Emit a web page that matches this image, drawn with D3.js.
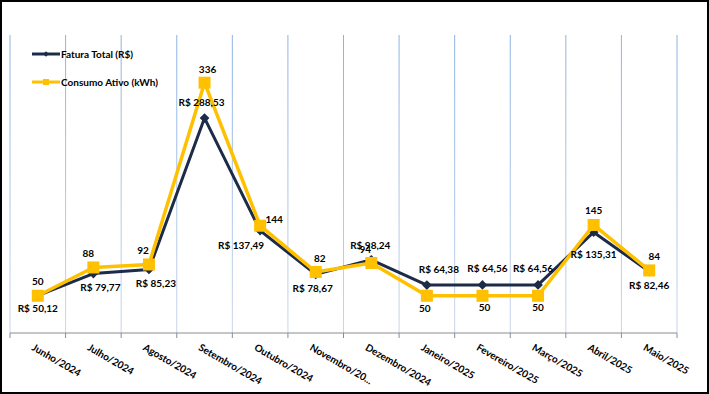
<!DOCTYPE html>
<html>
<head>
<meta charset="utf-8">
<script src="https://cdn.jsdelivr.net/npm/d3@7"></script>
<style>
  body { margin: 0; background: #fff; }
  svg text { font-family: Lato, "Liberation Sans", sans-serif; font-weight: bold; fill: #000; }
</style>
</head>
<body>
<div id="chart"></div>
<script>
// chart data
const months = ["Junho/2024", "Julho/2024", "Agosto/2024", "Setembro/2024", "Outubro/2024", "Novembro/20...",
    "Dezembro/2024", "Janeiro/2025", "Fevereiro/2025", "Março/2025", "Abril/2025", "Maio/2025"];
const fatura = [50.12, 79.77, 85.23, 288.53, 137.49, 78.67, 98.24, 64.38, 64.56, 64.56, 135.31, 82.46];
const consumo = [50, 88, 92, 336, 144, 82, 94, 50, 50, 50, 145, 84];
const seriesNames = ["Fatura Total (R$)", "Consumo Ativo (kWh)"];

// hand-placed label nudges (dx, dy from the point)
const faturaLabelOffset = [[0, 13], [7, 14], [7, 14], [-3, -16], [-19, 15], [-3, 14], [-1, -14],
    [12, -16], [5, -16], [-5, -16], [0, 22], [0, 14]];
const consumoLabelOffset = [[0, -14], [-5, -14], [-6, -14], [3, -13], [14, -6], [4, -13], [-6, -13],
    [-2, 13], [2, 12], [0, 12], [0, -14], [5, -14]];

const width = 709;
const height = 394;
const navy = "#1c2b47";
const gold = "#ffc000";

const svg = d3.select("#chart")
    .append("svg")
    .attr("width", width)
    .attr("height", height);

const x = d3.scaleBand().domain(months).range([10, 677]).padding(0);
const y = d3.scaleLinear().domain([0, 400]).range([333, 35]);

const defs = svg.append("defs");
const grad = defs.append("linearGradient")
    .attr("id", "gridGrad")
    .attr("gradientUnits", "userSpaceOnUse")
    .attr("x1", 0).attr("y1", 35).attr("x2", 0).attr("y2", 333);
grad.append("stop").attr("offset", 0).attr("stop-color", "#8db3e2");
grad.append("stop").attr("offset", 1).attr("stop-color", "#c9d6ec");

// vertical gridlines on category boundaries
const bounds = months.map(m => x(m)).concat([x.range()[1]]);
svg.append("g")
    .selectAll("line")
    .data(bounds)
    .join("line")
    .attr("x1", d => d).attr("x2", d => d)
    .attr("y1", 35).attr("y2", 333)
    .attr("stroke", "url(#gridGrad)")
    .attr("stroke-width", 1);

// category axis
const axis = svg.append("g");
axis.append("line")
    .attr("x1", 10).attr("x2", 677)
    .attr("y1", 333).attr("y2", 333)
    .attr("stroke", "#8c8c8c").attr("stroke-width", 1);
axis.selectAll("line.tick")
    .data(bounds)
    .join("line")
    .attr("class", "tick")
    .attr("x1", d => d).attr("x2", d => d)
    .attr("y1", 333).attr("y2", 338)
    .attr("stroke", "#8c8c8c");
axis.selectAll("text")
    .data(months)
    .join("text")
    .attr("transform", d => `translate(${x(d) + x.bandwidth() / 2 - 3},${343}) rotate(30)`)
    .attr("dy", "0.75em")
    .attr("font-size", "10px")
    .text(d => d);

const cx = i => x(months[i]) + x.bandwidth() / 2;

// Fatura line
const faturaLine = d3.line().x((d, i) => cx(i)).y(d => y(d));
svg.append("path")
    .datum(fatura)
    .attr("d", faturaLine)
    .attr("fill", "none")
    .attr("stroke", navy)
    .attr("stroke-width", 3)
    .attr("stroke-linejoin", "round");
svg.append("g")
    .selectAll("path")
    .data(fatura)
    .join("path")
    .attr("d", d3.symbol(d3.symbolDiamond2, 60))
    .attr("transform", (d, i) => `translate(${cx(i)},${y(d)})`)
    .attr("fill", navy);

// Consumo line
svg.append("path")
    .datum(consumo)
    .attr("d", faturaLine)
    .attr("fill", "none")
    .attr("stroke", gold)
    .attr("stroke-width", 3.5)
    .attr("stroke-linejoin", "round");
svg.append("g")
    .selectAll("rect")
    .data(consumo)
    .join("rect")
    .attr("x", (d, i) => cx(i) - 6)
    .attr("y", d => y(d) - 6)
    .attr("width", 12).attr("height", 12)
    .attr("fill", gold);

// data labels
const fmtBRL = v => "R$ " + v.toFixed(2).replace(".", ",");
svg.append("g")
    .selectAll("text")
    .data(fatura)
    .join("text")
    .attr("x", (d, i) => cx(i) + faturaLabelOffset[i][0])
    .attr("y", (d, i) => y(d) + faturaLabelOffset[i][1])
    .attr("dy", "0.35em")
    .attr("text-anchor", "middle")
    .attr("font-size", "10px")
    .text(fmtBRL);
svg.append("g")
    .selectAll("text")
    .data(consumo)
    .join("text")
    .attr("x", (d, i) => cx(i) + consumoLabelOffset[i][0])
    .attr("y", (d, i) => y(d) + consumoLabelOffset[i][1])
    .attr("dy", "0.35em")
    .attr("text-anchor", "middle")
    .attr("font-size", "10px")
    .text(d => d);

// legend
const legend = svg.append("g").attr("transform", "translate(32,54)");
const items = legend.selectAll("g")
    .data(seriesNames)
    .join("g")
    .attr("transform", (d, i) => `translate(0,${i * 28})`);
items.append("line")
    .attr("x1", 0).attr("x2", 28)
    .attr("stroke", (d, i) => i === 0 ? navy : gold)
    .attr("stroke-width", 3);
items.filter((d, i) => i === 0).append("path")
    .attr("d", d3.symbol(d3.symbolDiamond2, 20))
    .attr("transform", "translate(14,0)")
    .attr("fill", navy);
items.filter((d, i) => i === 1).append("rect")
    .attr("x", 11).attr("y", -3).attr("width", 6).attr("height", 6)
    .attr("fill", gold);
items.append("text")
    .attr("x", 29)
    .attr("dy", "0.35em")
    .attr("font-size", "10px")
    .text(d => d);

// outer frame
svg.append("rect")
    .attr("x", 1).attr("y", 1)
    .attr("width", width - 2).attr("height", height - 2)
    .attr("fill", "none")
    .attr("stroke", "#000")
    .attr("stroke-width", 2);
</script>
</body>
</html>
